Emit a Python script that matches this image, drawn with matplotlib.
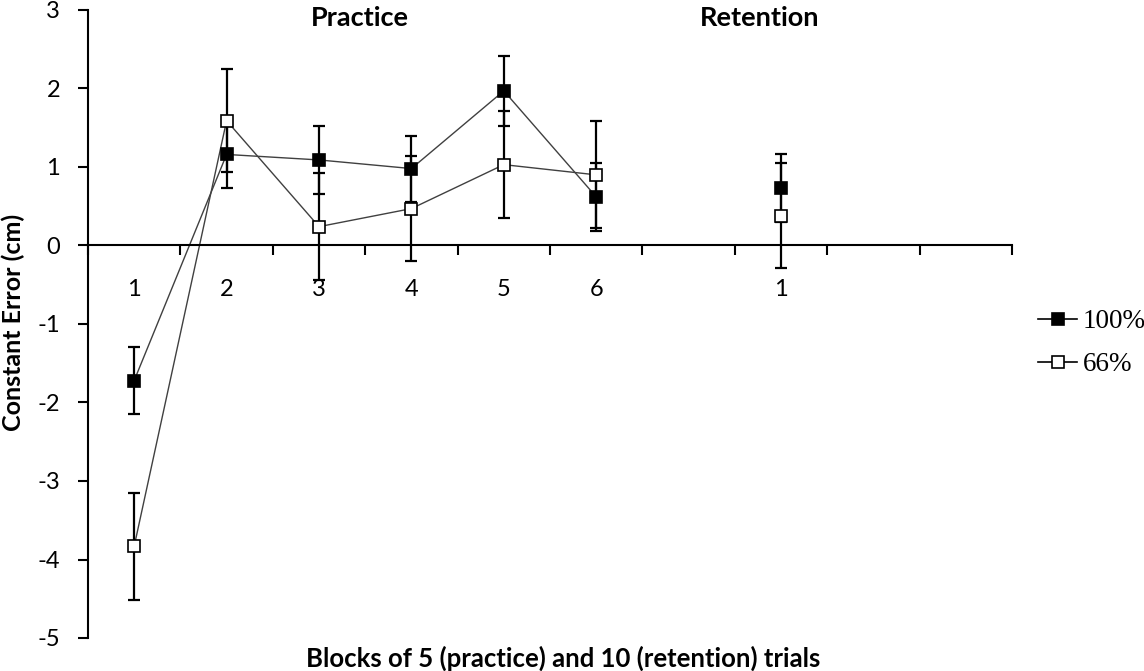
import matplotlib
matplotlib.use("Agg")
import matplotlib.pyplot as plt
from matplotlib.lines import Line2D
from matplotlib.ticker import FixedLocator, NullFormatter, FixedFormatter

plt.rcParams['axes.unicode_minus'] = False
plt.rcParams['font.family'] = ['Lato', 'DejaVu Sans']

# ---- data ----
practice_blocks = [1, 2, 3, 4, 5, 6]
retention_block = [8]
cat_labels = ['1', '2', '3', '4', '5', '6', '', '1', '', '']

ce_100 = [-1.72, 1.16, 1.09, 0.98, 1.97, 0.62]
err_100 = [0.43, 0.43, 0.43, 0.42, 0.45, 0.43]
ret_100 = [0.73]
ret_err_100 = [0.43]

ce_66 = [-3.83, 1.59, 0.24, 0.47, 1.03, 0.90]
err_66 = [0.68, 0.66, 0.68, 0.67, 0.68, 0.68]
ret_66 = [0.38]
ret_err_66 = [0.67]

series_names = ['100%', '66%']

# ---- figure ----
fig = plt.figure(figsize=(11.44, 6.71), dpi=100)
ax = fig.add_axes([88/1144, 1-638/671, (1012-88)/1144, (638-10)/671])

line_kw = dict(color='#404040', lw=1.0)
eb_kw = dict(ecolor='black', elinewidth=1.6, capsize=4.5, capthick=1.6, fmt='none')

# 100% series
ax.plot(practice_blocks, ce_100, zorder=2, **line_kw)
ax.errorbar(practice_blocks, ce_100, yerr=err_100, zorder=3, **eb_kw)
ax.errorbar(retention_block, ret_100, yerr=ret_err_100, zorder=3, **eb_kw)
# 66% series
ax.plot(practice_blocks, ce_66, zorder=2, **line_kw)
ax.errorbar(practice_blocks, ce_66, yerr=err_66, zorder=3, **eb_kw)
ax.errorbar(retention_block, ret_66, yerr=ret_err_66, zorder=3, **eb_kw)

mk100 = dict(marker='s', ms=8.5, mfc='black', mec='black', mew=1.2, ls='none')
mk66 = dict(marker='s', ms=8.5, mfc='white', mec='black', mew=1.2, ls='none')
ax.plot(practice_blocks + retention_block, ce_100 + ret_100, zorder=4, **mk100)
ax.plot(practice_blocks + retention_block, ce_66 + ret_66, zorder=4, **mk66)

ax.set_xlim(0.5, 10.5)
ax.set_ylim(-5, 3)

for s in ['top', 'right']:
    ax.spines[s].set_visible(False)
ax.spines['bottom'].set_position(('data', 0))
ax.spines['left'].set_position(('data', 0.5))
for s in ['left', 'bottom']:
    ax.spines[s].set_linewidth(1.5)
    ax.spines[s].set_color('black')

ax.set_yticks(range(-5, 4))
ax.set_yticklabels([str(v) for v in range(-5, 4)])
ax.tick_params(axis='y', direction='out', length=7, width=1.5, pad=13, labelsize=17)

ax.xaxis.set_major_locator(FixedLocator([0.5 + k for k in range(11)]))
ax.xaxis.set_major_formatter(NullFormatter())
ax.xaxis.set_minor_locator(FixedLocator(list(range(1, 11))))
ax.xaxis.set_minor_formatter(FixedFormatter(cat_labels))
ax.tick_params(axis='x', which='major', direction='out', length=7, width=1.5)
ax.tick_params(axis='x', which='minor', length=0, pad=24, labelsize=17)

fig.text(13/1144, 1-322/671, 'Constant Error (cm)', rotation=90, ha='center', va='center',
         fontsize=18, fontweight='bold')
fig.text(563/1144, 1-658/671, 'Blocks of 5 (practice) and 10 (retention) trials',
         ha='center', va='center', fontsize=18.5, fontweight='bold')
fig.text(360/1144, 1-18/671, 'Practice', ha='center', va='center', fontsize=19.5, fontweight='bold')
fig.text(760/1144, 1-18/671, 'Retention', ha='center', va='center', fontsize=19.5, fontweight='bold')

handles = [Line2D([], [], color='black', lw=1.2, **{k: v for k, v in mk100.items() if k != 'ls'}),
           Line2D([], [], color='black', lw=1.2, **{k: v for k, v in mk66.items() if k != 'ls'})]
fig.legend(handles, series_names, loc='upper left', bbox_to_anchor=(1038/1144, 1-309/671),
           frameon=False, prop={'family': 'Liberation Serif', 'size': 19.5},
           handlelength=1.45, handletextpad=0.2, labelspacing=0.68, borderpad=0, borderaxespad=0)

fig.savefig('out.png', dpi=100)
